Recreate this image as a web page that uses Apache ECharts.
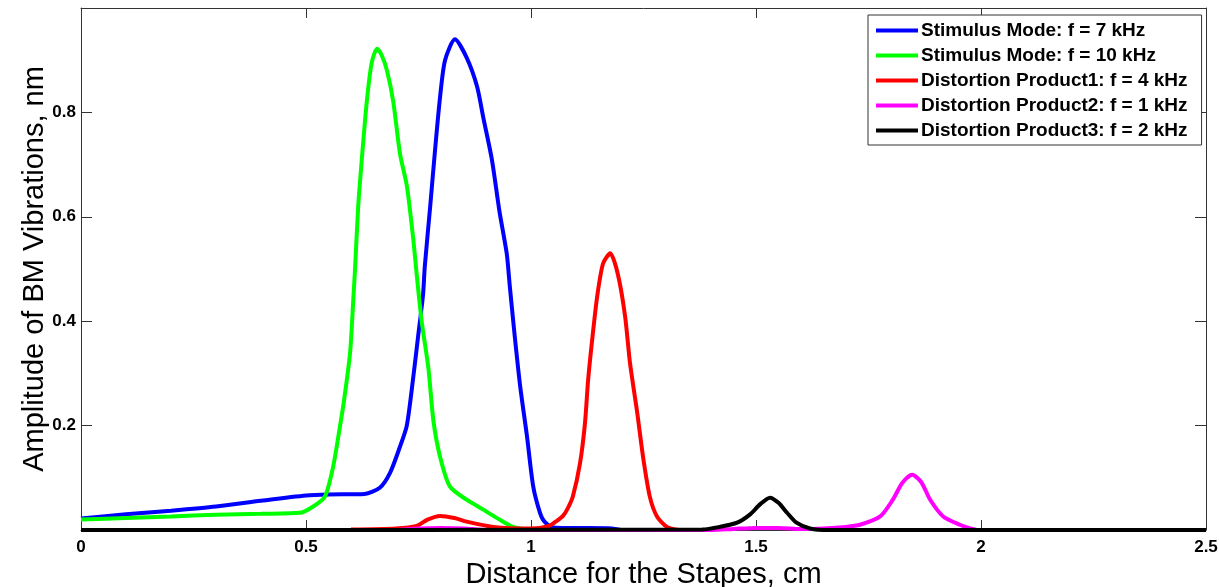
<!DOCTYPE html>
<html>
<head>
<meta charset="utf-8">
<script src="https://cdn.jsdelivr.net/npm/echarts@6/dist/echarts.min.js"></script>
<style>
html,body{margin:0;padding:0;background:#fff;}
#chart{width:1219px;height:587px;}
</style>
</head>
<body>
<div id="chart"></div>
<script>
// ---- data ----
const seriesNames = [
  'Stimulus Mode: f = 7 kHz',
  'Stimulus Mode: f = 10 kHz',
  'Distortion Product1: f = 4 kHz',
  'Distortion Product2: f = 1 kHz',
  'Distortion Product3: f = 2 kHz'
];
const xTicks = [0, 0.5, 1, 1.5, 2, 2.5];
const yTicks = [0.2, 0.4, 0.6, 0.8];

const blueX = [0, 0.1, 0.2, 0.3, 0.4, 0.5, 0.55, 0.63, 0.664, 0.687, 0.709, 0.724, 0.738, 0.749, 0.76, 0.764, 0.776, 0.787, 0.798, 0.809, 0.831, 0.857, 0.88, 0.894, 0.913, 0.93, 0.946, 0.953, 0.964, 0.976, 0.991, 1.005, 1.02, 1.03, 1.05, 1.18, 1.2];
const blueY = [0.022, 0.03, 0.037, 0.045, 0.056, 0.066, 0.068, 0.069, 0.081, 0.11, 0.16, 0.2, 0.29, 0.37, 0.45, 0.505, 0.62, 0.73, 0.83, 0.9, 0.94, 0.905, 0.85, 0.79, 0.71, 0.61, 0.53, 0.466, 0.37, 0.275, 0.18, 0.083, 0.033, 0.016, 0.005, 0.003, 0];

const greenX = [0, 0.1, 0.2, 0.3, 0.4, 0.487, 0.516, 0.542, 0.56, 0.572, 0.584, 0.598, 0.605, 0.609, 0.616, 0.624, 0.635, 0.646, 0.658, 0.668, 0.68, 0.694, 0.709, 0.724, 0.738, 0.746, 0.757, 0.772, 0.783, 0.798, 0.82, 0.857, 0.894, 0.93, 0.96, 0.99, 1.0];
const greenY = [0.02, 0.023, 0.026, 0.029, 0.031, 0.033, 0.045, 0.064, 0.12, 0.18, 0.245, 0.34, 0.44, 0.5, 0.62, 0.71, 0.82, 0.895, 0.922, 0.91, 0.88, 0.82, 0.72, 0.66, 0.56, 0.49, 0.4, 0.31, 0.21, 0.14, 0.083, 0.058, 0.039, 0.02, 0.006, 0.001, 0];

const redX = [0.6, 0.7, 0.746, 0.77, 0.798, 0.83, 0.857, 0.916, 1.0, 1.04, 1.058, 1.071, 1.082, 1.093, 1.109, 1.12, 1.127, 1.136, 1.147, 1.16, 1.176, 1.193, 1.209, 1.22, 1.236, 1.249, 1.264, 1.28, 1.302, 1.33];
const redY = [0.001, 0.003, 0.008, 0.02, 0.027, 0.023, 0.016, 0.006, 0.003, 0.008, 0.018, 0.027, 0.042, 0.064, 0.128, 0.205, 0.288, 0.365, 0.447, 0.51, 0.53, 0.49, 0.41, 0.32, 0.225, 0.14, 0.064, 0.026, 0.006, 0];

const magentaX = [0.7, 0.75, 0.8, 0.85, 0.9, 1.4, 1.45, 1.5, 1.55, 1.6, 1.65, 1.7, 1.731, 1.776, 1.804, 1.825, 1.847, 1.867, 1.887, 1.916, 1.953, 1.976, 1.99];
const magentaY = [0, 0.003, 0.004, 0.003, 0, 0, 0.002, 0.004, 0.004, 0.002, 0.003, 0.006, 0.01, 0.026, 0.058, 0.09, 0.106, 0.092, 0.058, 0.026, 0.01, 0.003, 0];

const blackX = [0, 1.38, 1.42, 1.458, 1.487, 1.51, 1.531, 1.55, 1.569, 1.59, 1.62, 1.66, 2.5];
const blackY = [0, 0.001, 0.006, 0.014, 0.03, 0.05, 0.062, 0.052, 0.033, 0.014, 0.003, 0, 0];

const colors = ['#0000ff', '#00ff00', '#ff0000', '#ff00ff', '#000000'];

function zip(xs, ys) { return xs.map((x, i) => [x, ys[i]]); }
const allData = [zip(blueX, blueY), zip(greenX, greenY), zip(redX, redY), zip(magentaX, magentaY), zip(blackX, blackY)];

const chart = echarts.init(document.getElementById('chart'));
const FONT = 'Liberation Sans, Arial, sans-serif';
const tickFont = {fontFamily: FONT, fontWeight: 'bold', fontSize: 17, color: '#000'};
const axisLine = {show: true, onZero: false, lineStyle: {color: '#333', width: 1}};

chart.setOption({
  animation: false,
  backgroundColor: '#fff',
  grid: {left: 81, right: 13, top: 8, bottom: 57, containLabel: false, outerBoundsMode: 'none'},
  legend: {
    orient: 'vertical',
    left: 868, top: 15,
    backgroundColor: '#fff',
    borderColor: '#333', borderWidth: 1,
    padding: [6, 14, 5, 8],
    itemWidth: 42, itemHeight: 4, itemGap: 6,
    icon: 'rect',
    textStyle: {fontFamily: FONT, fontWeight: 'bold', fontSize: 19, color: '#000', padding: [0, 0, 0, -2]},
    data: seriesNames
  },
  xAxis: [{
    type: 'value', min: 0, max: 2.5, interval: 0.5, position: 'bottom',
    name: 'Distance for the Stapes, cm', nameLocation: 'middle', nameGap: 27,
    nameTextStyle: {fontFamily: FONT, fontSize: 29, color: '#000'},
    axisLine: axisLine,
    axisTick: {show: true, inside: true, length: 10, lineStyle: {color: '#333'}},
    axisLabel: Object.assign({margin: 9}, tickFont),
    splitLine: {show: false}
  }, {
    type: 'value', min: 0, max: 2.5, interval: 0.5, position: 'top',
    axisLine: axisLine,
    axisTick: {show: true, inside: true, length: 10, lineStyle: {color: '#333'}},
    axisLabel: {show: false}, splitLine: {show: false}
  }],
  yAxis: [{
    type: 'value', min: 0, max: 1, interval: 0.2, position: 'left',
    name: 'Amplitude of BM Vibrations, nm', nameLocation: 'middle', nameGap: 31,
    nameMoveOverlap: false,
    nameTextStyle: {fontFamily: FONT, fontSize: 29, lineHeight: 30, color: '#000'},
    axisLine: axisLine,
    axisTick: {show: true, inside: true, length: 11, lineStyle: {color: '#333'}},
    axisLabel: Object.assign({margin: 5, formatter: v => (yTicks.some(t => Math.abs(t - v) < 1e-9) ? v.toFixed(1) : '')}, tickFont),
    splitLine: {show: false}
  }, {
    type: 'value', min: 0, max: 1, interval: 0.2, position: 'right',
    axisLine: axisLine,
    axisTick: {show: true, inside: true, length: 11, lineStyle: {color: '#333'}},
    axisLabel: {show: false}, splitLine: {show: false}
  }],
  series: seriesNames.map((name, i) => ({
    name: name,
    type: 'line',
    data: allData[i],
    xAxisIndex: 0, yAxisIndex: 0,
    smooth: 0.25,
    showSymbol: false,
    symbol: 'none',
    clip: false,
    itemStyle: {color: colors[i]},
    lineStyle: {color: colors[i], width: 4},
    z: 2 + i
  }))
});
</script>
</body>
</html>
